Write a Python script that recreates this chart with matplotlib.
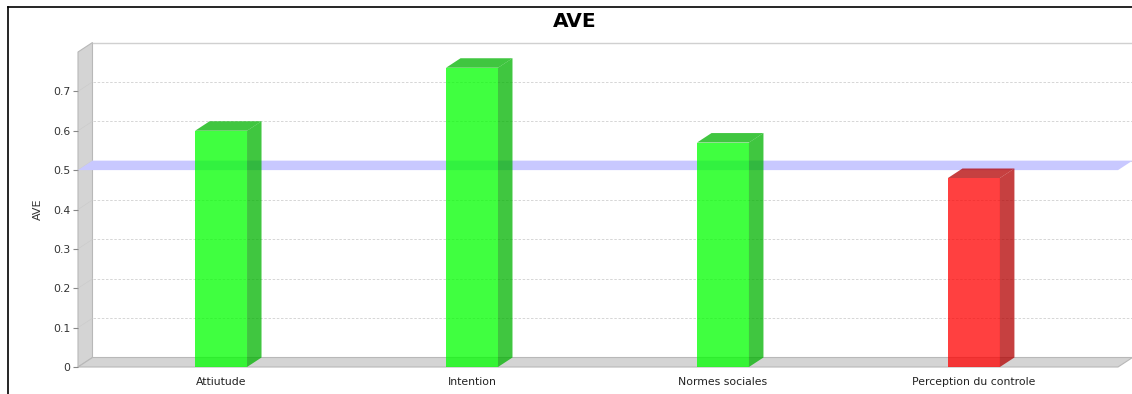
import matplotlib
matplotlib.use("Agg")
import matplotlib.pyplot as plt
from matplotlib.patches import Polygon
from matplotlib.lines import Line2D
from matplotlib.colors import to_rgb

categories = ["Attiutude", "Intention", "Normes sociales", "Perception du controle"]
ave = [0.60, 0.76, 0.57, 0.48]
threshold = 0.5
bar_colors = ["#00ff00", "#00ff00", "#00ff00", "#ff0000"]
yticks = [0, 0.1, 0.2, 0.3, 0.4, 0.5, 0.6, 0.7]

W, H = 1132, 394
fig = plt.figure(figsize=(W / 100, H / 100), dpi=100)
fig.patch.set_facecolor("white")

# front plane of the 3d plot, in pixels
left, right, top, bottom = 78, 1118, 52, 367
ax = fig.add_axes([left / W, (H - bottom) / H, (right - left) / W, (bottom - top) / H])
xmin, xmax, ymin, ymax = -0.57, 3.574, 0, 0.8
ax.set_xlim(xmin, xmax)
ax.set_ylim(ymin, ymax)
ax.patch.set_visible(False)
for s in ax.spines.values():
    s.set_visible(False)

# depth offset of the 3d effect, converted to data units
dpx, dpy = 14.5, 9.5
ddx = dpx * (xmax - xmin) / (right - left)
ddy = dpy * (ymax - ymin) / (bottom - top)

wall_c = "#d4d4d4"
edge_c = "#b8b8b8"

# left wall and floor
ax.add_patch(Polygon([(xmin, ymin), (xmin, ymax), (xmin + ddx, ymax + ddy), (xmin + ddx, ymin + ddy)],
                     closed=True, facecolor=wall_c, edgecolor=edge_c, lw=0.8, clip_on=False, zorder=1))
ax.add_patch(Polygon([(xmin, ymin), (xmax, ymin), (xmax + ddx, ymin + ddy), (xmin + ddx, ymin + ddy)],
                     closed=True, facecolor=wall_c, edgecolor=edge_c, lw=0.8, clip_on=False, zorder=1))

# back plane outline
ax.add_line(Line2D([xmin + ddx, xmax + ddx, xmax + ddx], [ymax + ddy, ymax + ddy, ymin + ddy],
                   color="#d0d0d0", lw=1.0, clip_on=False, zorder=1))

# gridlines on the back plane, with faint lines across the wall
for t in yticks[1:]:
    ax.add_line(Line2D([xmin + ddx, xmax + ddx], [t + ddy, t + ddy], color="#d0d0d0",
                       lw=0.6, ls=(0, (3, 2)), clip_on=False, zorder=2))
    ax.add_line(Line2D([xmin, xmin + ddx], [t, t + ddy], color="#cacaca",
                       lw=0.4, clip_on=False, zorder=2))

# threshold band (plane at 0.5)
ax.add_patch(Polygon([(xmin, threshold), (xmax, threshold), (xmax + ddx, threshold + ddy),
                      (xmin + ddx, threshold + ddy)],
                     closed=True, facecolor="#c8c8ff", edgecolor="none", clip_on=False, zorder=3))


def darker(c, f=0.7):
    r, g, b = to_rgb(c)
    return (r * f, g * f, b * f)


bw = 0.207
alpha = 0.75
for i, (v, c) in enumerate(zip(ave, bar_colors)):
    x0, x1 = i - bw / 2, i + bw / 2
    ax.add_patch(Polygon([(x0, 0), (x1, 0), (x1, v), (x0, v)], closed=True,
                         facecolor=c, alpha=alpha, edgecolor="none", zorder=5))
    ax.add_patch(Polygon([(x1, 0), (x1 + ddx, ddy), (x1 + ddx, v + ddy), (x1, v)], closed=True,
                         facecolor=darker(c), alpha=alpha, edgecolor="none", zorder=5))
    ax.add_patch(Polygon([(x0, v), (x1, v), (x1 + ddx, v + ddy), (x0 + ddx, v + ddy)], closed=True,
                         facecolor=darker(c), alpha=alpha, edgecolor="none", zorder=5))

ax.set_yticks(yticks)
ax.set_yticklabels(["0" if t == 0 else f"{t:.1f}" for t in yticks])
ax.tick_params(axis="y", length=3.5, width=0.8, color="#888888", labelsize=7.8,
               pad=2, labelcolor="#333333")
ax.set_xticks(range(len(categories)))
ax.set_xticklabels(categories)
ax.tick_params(axis="x", length=0, labelsize=7.8, pad=7, labelcolor="#222222")
ax.set_ylabel("AVE", fontsize=8, color="#333333", labelpad=7)

fig.text(575 / W, 1 - 21.5 / H, "AVE", ha="center", va="center", fontsize=14.5,
         fontweight="bold", color="black")

# outer chart border
fig.add_artist(Line2D([8 / W, 1], [1 - 6.5 / H, 1 - 6.5 / H], color="black", lw=1.2,
                      transform=fig.transFigure))
fig.add_artist(Line2D([8 / W, 8 / W], [0, 1 - 6.5 / H], color="black", lw=1.2,
                      transform=fig.transFigure))

fig.savefig("out.png", dpi=100)
